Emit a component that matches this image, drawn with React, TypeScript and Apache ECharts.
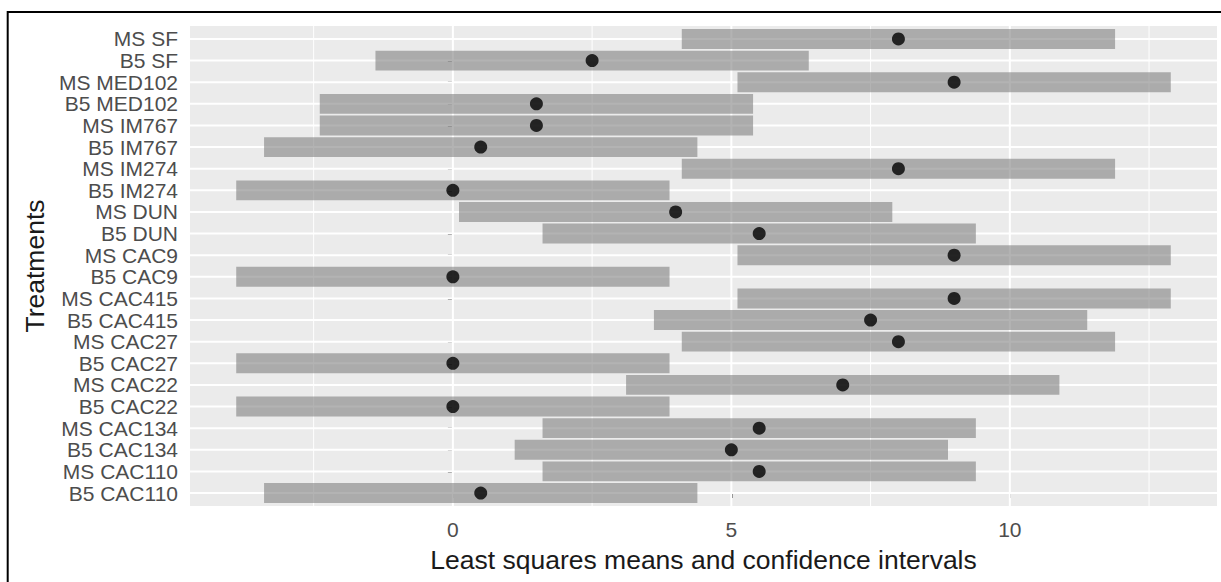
import React, { useEffect, useRef } from "react";
import * as echarts from "echarts";

// Categories from bottom to top
const categories = [
  "B5 CAC110", "MS CAC110", "B5 CAC134", "MS CAC134", "B5 CAC22", "MS CAC22",
  "B5 CAC27", "MS CAC27", "B5 CAC415", "MS CAC415", "B5 CAC9", "MS CAC9",
  "B5 DUN", "MS DUN", "B5 IM274", "MS IM274", "B5 IM767", "MS IM767",
  "B5 MED102", "MS MED102", "B5 SF", "MS SF",
];
const means = [0.5, 5.5, 5.0, 5.5, 0, 7.0, 0, 8.0, 7.5, 9.0, 0, 9.0, 5.5, 4.0, 0, 8.0, 0.5, 1.5, 1.5, 9.0, 2.5, 8.0];
const lower = [-3.39, 1.61, 1.11, 1.61, -3.89, 3.11, -3.89, 4.11, 3.61, 5.11, -3.89, 5.11, 1.61, 0.11, -3.89, 4.11, -3.39, -2.39, -2.39, 5.11, -1.39, 4.11];
const upper = [4.39, 9.39, 8.89, 9.39, 3.89, 10.89, 3.89, 11.89, 11.39, 12.89, 3.89, 12.89, 9.39, 7.89, 3.89, 11.89, 4.39, 5.39, 5.39, 12.89, 6.39, 11.89];
const xTicks = [0, 5, 10];
const xMinorGrid = [-2.5, 2.5, 7.5, 12.5];
const xMin = -4.72;
const xMax = 13.72;
const yMin = -0.6;
const yMax = 21.6;

const FONT = "'Liberation Sans', Arial, sans-serif";

export default function App() {
  const ref = useRef<HTMLDivElement>(null);
  useEffect(() => {
    if (!ref.current) return;
    const chart = echarts.init(ref.current, undefined, { renderer: "svg" });
    const yIdx = categories.map((_, i) => i);
    // gridline specs: [orientation (0 = vertical, 1 = horizontal), value, width]
    const gridData = [
      ...xMinorGrid.map((v) => [0, v, 1]),
      ...xTicks.map((v) => [0, v, 2]),
      ...yIdx.map((v) => [1, v, 2]),
    ];
    const option: any = {
      animation: false,
      backgroundColor: "#ffffff",
      grid: {
        left: 190,
        right: 4,
        top: 26,
        bottom: 76,
        show: true,
        backgroundColor: "#EBEBEB",
        borderWidth: 0,
      },
      xAxis: {
        type: "value",
        min: xMin,
        max: xMax,
        axisLine: { show: false },
        splitLine: { show: false },
        axisTick: { show: true, customValues: xTicks, length: 5, lineStyle: { color: "#333333", width: 1.5 } },
        axisLabel: { customValues: xTicks, color: "#4D4D4D", fontSize: 21, fontFamily: FONT, margin: 13 },
        name: "Least squares means and confidence intervals",
        nameLocation: "middle",
        nameGap: 40,
        nameTextStyle: { color: "#1A1A1A", fontSize: 26.5, fontFamily: FONT },
      },
      yAxis: {
        type: "value",
        min: yMin,
        max: yMax,
        axisLine: { show: false },
        splitLine: { show: false },
        axisTick: { show: true, customValues: yIdx, length: 5, lineStyle: { color: "#333333", width: 1.5 } },
        axisLabel: {
          customValues: yIdx,
          color: "#4D4D4D",
          fontSize: 21,
          fontFamily: FONT,
          margin: 12,
          formatter: (v: number) => categories[Math.round(v)] ?? "",
        },
        name: "Treatments",
        nameLocation: "middle",
        nameGap: 142,
        nameRotate: 90,
        nameTextStyle: { color: "#1A1A1A", fontSize: 26.5, fontFamily: FONT },
      },
      series: [
        {
          type: "custom",
          z: 1,
          silent: true,
          clip: true,
          data: gridData,
          encode: { x: 1 },
          renderItem: (params: any, api: any) => {
            const orient = api.value(0);
            const v = api.value(1);
            const w = api.value(2);
            let shape;
            if (orient === 0) {
              const a = api.coord([v, yMin]);
              const b = api.coord([v, yMax]);
              shape = { x1: a[0], y1: a[1], x2: b[0], y2: b[1] };
            } else {
              const a = api.coord([xMin, v]);
              const b = api.coord([xMax, v]);
              shape = { x1: a[0], y1: a[1], x2: b[0], y2: b[1] };
            }
            return { type: "line", shape, style: { stroke: "#ffffff", lineWidth: w } };
          },
        },
        {
          type: "custom",
          z: 2,
          silent: true,
          data: categories.map((_, i) => [lower[i], upper[i], i]),
          encode: { x: [0, 1], y: 2 },
          renderItem: (params: any, api: any) => {
            const lo = api.value(0);
            const hi = api.value(1);
            const y = api.value(2);
            const p1 = api.coord([lo, y]);
            const p2 = api.coord([hi, y]);
            const h = api.size([0, 1])[1] * 0.92;
            return {
              type: "rect",
              shape: { x: p1[0], y: p1[1] - h / 2, width: p2[0] - p1[0], height: h },
              style: { fill: "rgba(128,128,128,0.6)" },
            };
          },
        },
        {
          type: "scatter",
          z: 3,
          silent: true,
          symbol: "circle",
          symbolSize: 13,
          itemStyle: { color: "#000000" },
          data: means.map((m, i) => [m, i]),
        },
      ],
      graphic: [
        { type: "line", shape: { x1: 7, y1: 12, x2: 1221, y2: 12 }, style: { stroke: "#000", lineWidth: 2 }, z: 10 },
        { type: "line", shape: { x1: 7.7, y1: 11, x2: 7.7, y2: 582 }, style: { stroke: "#000", lineWidth: 2 }, z: 10 },
      ],
    };
    chart.setOption(option);
    return () => chart.dispose();
  }, []);
  return (
    <div
      ref={ref}
      style={{ position: "absolute", left: 0, top: 0, width: 1221, height: 582 }}
    />
  );
}
